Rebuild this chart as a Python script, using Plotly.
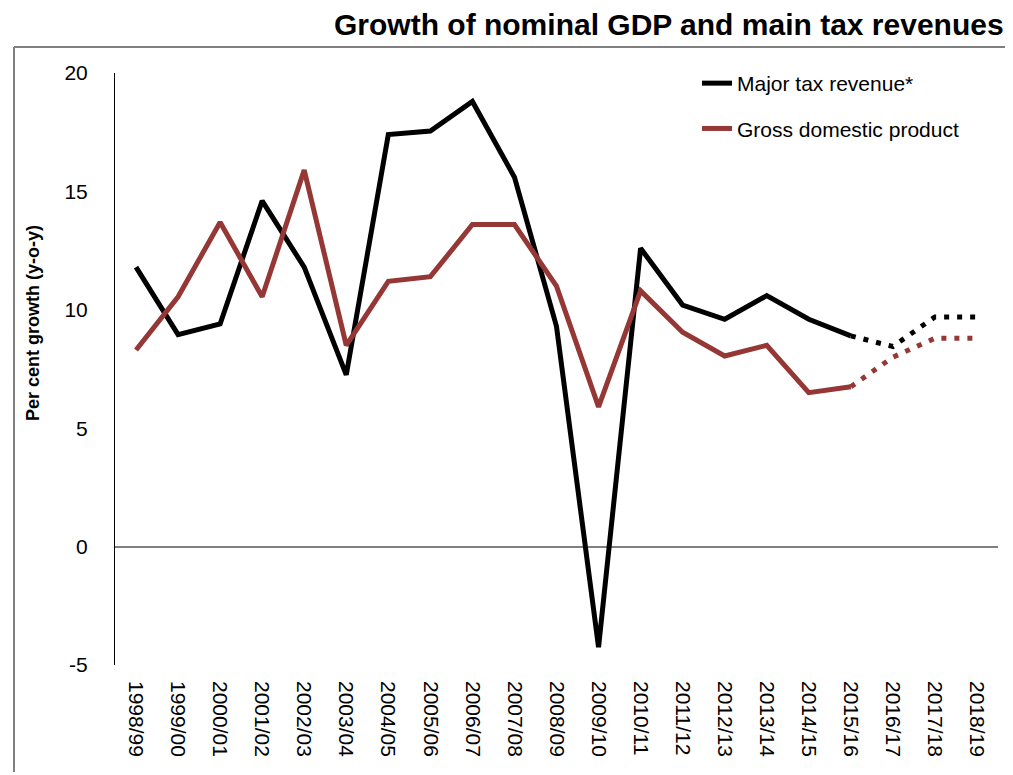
import plotly.graph_objects as go

categories = ["1998/99", "1999/00", "2000/01", "2001/02", "2002/03", "2003/04", "2004/05",
              "2005/06", "2006/07", "2007/08", "2008/09", "2009/10", "2010/11", "2011/12",
              "2012/13", "2013/14", "2014/15", "2015/16", "2016/17", "2017/18", "2018/19"]

# Actuals (through 2015/16) and projections (2015/16 onward, dotted)
tax_actual = [11.8, 8.95, 9.4, 14.6, 11.8, 7.25, 17.4, 17.55, 18.8, 15.6, 9.3, -4.25,
              12.6, 10.2, 9.6, 10.6, 9.6, 8.9]
tax_proj = [8.9, 8.45, 9.7, 9.7]
gdp_actual = [8.3, 10.55, 13.7, 10.55, 15.9, 8.5, 11.2, 11.4, 13.6, 13.6, 11.0, 5.9,
              10.8, 9.05, 8.05, 8.5, 6.5, 6.75]
gdp_proj = [6.75, 8.0, 8.8, 8.8]

y_tickvals = [-5, 0, 5, 10, 15, 20]
y_ticktext = ["-5", "0", "5", "10", "15", "20"]

title_text = "Growth of nominal GDP and main tax revenues"
y_title = "Per cent growth (y-o-y)"
tax_name = "Major tax revenue*"
gdp_name = "Gross domestic product"

BLACK = "#000000"
RED = "#953735"
FONT = "Liberation Sans, Arial, sans-serif"

n_act = len(tax_actual)
proj_cats = categories[n_act - 1:]

fig = go.Figure()
fig.add_trace(go.Scatter(x=categories[:n_act], y=tax_actual, mode="lines", name=tax_name,
                         line=dict(color=BLACK, width=5), legendgroup="a"))
fig.add_trace(go.Scatter(x=categories[:n_act], y=gdp_actual, mode="lines", name=gdp_name,
                         line=dict(color=RED, width=5), legendgroup="b"))
fig.add_trace(go.Scatter(x=proj_cats, y=tax_proj, mode="lines", showlegend=False,
                         line=dict(color=BLACK, width=5, dash="5px,8px"), legendgroup="a"))
fig.add_trace(go.Scatter(x=proj_cats, y=gdp_proj, mode="lines", showlegend=False,
                         line=dict(color=RED, width=5, dash="5px,8px"), legendgroup="b"))

# page body has an 8px margin; work in screen coordinates and convert
OFF = 8
W, H = 1013 - OFF, 775 - OFF
L = 115 - OFF
T = 73 - OFF
R = W - (998 - OFF)
B = H - (665 - OFF)
pw, ph = W - L - R, H - T - B

def px(x):
    return (x - OFF - L) / pw

def py(y):
    return (H - B - (y - OFF)) / ph

fig.update_layout(
    width=W, height=H,
    margin=dict(l=L, r=R, t=T, b=B, autoexpand=False),
    paper_bgcolor="white", plot_bgcolor="white",
    font=dict(family=FONT, color="black", size=19),
    showlegend=True,
    legend=dict(x=px(697), y=py(63), xanchor="left", yanchor="top",
                font=dict(size=21, family=FONT), tracegroupgap=15,
                itemwidth=30, bgcolor="rgba(0,0,0,0)"),
    xaxis=dict(type="category", range=[-0.5, len(categories) - 0.5], automargin=False,
               showgrid=False, showline=False, ticks="", ticklabelstandoff=15,
               tickangle=90, tickfont=dict(size=21), zeroline=False),
    yaxis=dict(range=[-5, 20], tickvals=y_tickvals, ticktext=y_ticktext, automargin=False,
               showgrid=False, showline=True, linecolor="black",
               linewidth=1, ticks="", ticklabelstandoff=22, tickfont=dict(size=21),
               zeroline=True, zerolinecolor="#7f7f7f", zerolinewidth=1.5),
    annotations=[
        dict(text="<b>" + title_text + "</b>", xref="paper", yref="paper",
             x=px(1006), y=py(25), xanchor="right", yanchor="middle", showarrow=False,
             font=dict(size=30, family=FONT)),
        dict(text="<b>" + y_title + "</b>", xref="paper", yref="paper",
             x=px(33), y=py(323), xanchor="center", yanchor="middle", showarrow=False,
             textangle=-90, font=dict(size=18, family=FONT)),
    ],
    shapes=[
        dict(type="line", xref="paper", yref="paper", x0=px(14), x1=px(1013),
             y0=py(47), y1=py(47), line=dict(color="#808080", width=2)),
        dict(type="line", xref="paper", yref="paper", x0=px(14), x1=px(14),
             y0=py(47), y1=py(772), line=dict(color="#808080", width=2)),
    ],
)

fig.write_html("out.html")
